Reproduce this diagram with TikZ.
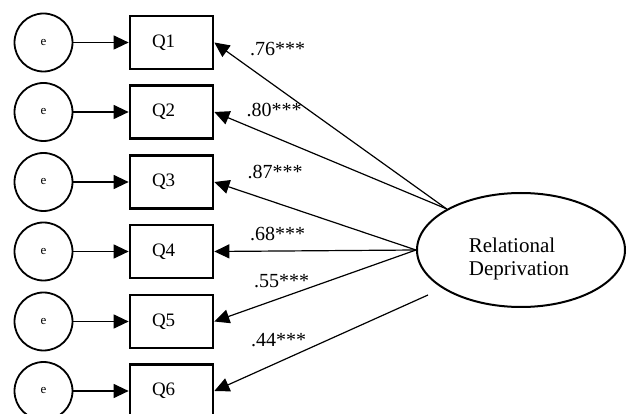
\documentclass[tikz,border=0pt]{standalone}
\usepackage{fontspec}
\setmainfont{Liberation Serif}
\usetikzlibrary{arrows.meta,shapes.geometric}
\begin{document}
\begin{tikzpicture}[x=1pt,y=-1pt,
  errc/.style={draw, circle, line width=1.8pt, minimum size=58pt, inner sep=0pt,
    font=\fontsize{13}{15}\selectfont},
  qbox/.style={draw, rectangle, line width=2.7pt, minimum height=53pt,
    text width=39pt, inner xsep=22pt, align=left, font=\fontsize{19}{21}\selectfont},
  latent/.style={draw, ellipse, line width=2pt, minimum width=208pt, minimum height=114pt, inner sep=0pt},
  path/.style={line width=1.2pt, -{Triangle[length=15pt,width=14pt]}},
  coef/.style={font=\fontsize{20}{22}\selectfont, inner sep=0pt}
]
\useasboundingbox (0,0) rectangle (627,414);

% latent factor
\node[latent] (rd) at (521,250) {};
\node[align=left, inner sep=0pt, font=\fontsize{21}{23}\selectfont] (rdtext) at (519,258.5) {Relational\\Deprivation};
\coordinate (s6) at (428,295);

% indicators with their error terms
\foreach \i/\y in {1/42.5, 2/112, 3/182, 4/251.5, 5/321.5, 6/391} {
  \node[qbox] (q\i) at (171.5,\y) {Q\i};
  \node[errc] (e\i) at (43.5,\y) {e};
  \draw[path] (e\i) -- (q\i.west);
}

% loadings
\draw[path] (rd.north west) -- (q1.east);
\draw[path] (rd.north west) -- (q2.east);
\draw[path] (rd.west) -- (q3.east);
\draw[path] (rd.west) -- (q4.east);
\draw[path] (rd.west) -- (q5.east);
\draw[path] (s6) -- (q6.east);

\node[coef] (l1) at (277.5,49) {.76***};
\node[coef] (l2) at (274,110) {.80***};
\node[coef] (l3) at (275,172) {.87***};
\node[coef] (l4) at (277.5,234) {.68***};
\node[coef] (l5) at (281.5,281) {.55***};
\node[coef] (l6) at (278.5,340) {.44***};
\end{tikzpicture}
\end{document}
